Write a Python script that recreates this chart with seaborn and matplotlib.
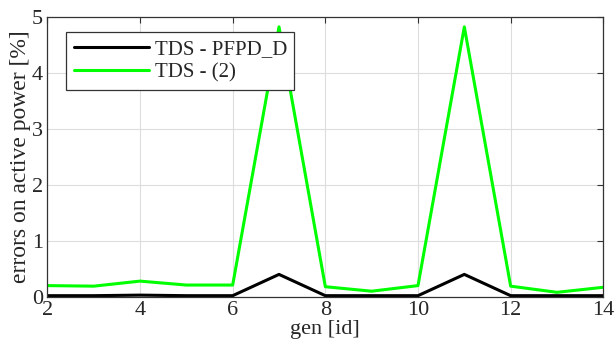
import numpy as np
import pandas as pd
import matplotlib
matplotlib.use('Agg')
import matplotlib.pyplot as plt
import seaborn as sns

# Data
gen_id = [2, 3, 4, 5, 6, 7, 8, 9, 10, 11, 12, 13, 14]
err_pfpd_d = [0.02, 0.02, 0.03, 0.02, 0.02, 0.40, 0.02, 0.02, 0.02, 0.40, 0.02, 0.02, 0.02]
err_two = [0.20, 0.19, 0.28, 0.21, 0.21, 4.82, 0.18, 0.10, 0.20, 4.82, 0.19, 0.08, 0.17]
series_names = ['TDS - PFPD_D', 'TDS - (2)']
series_colors = ['#000000', '#00ff00']

df = pd.DataFrame({
    'gen': gen_id * 2,
    'err': err_pfpd_d + err_two,
    'series': [series_names[0]] * len(gen_id) + [series_names[1]] * len(gen_id),
})

sns.set_style('whitegrid')
plt.rcParams['font.family'] = ['Liberation Serif', 'DejaVu Serif']

fig, ax = plt.subplots(figsize=(6.15, 3.5), dpi=100)
sns.lineplot(data=df, x='gen', y='err', hue='series', palette=series_colors,
             linewidth=2.2, ax=ax)

ax.set_xlim(2, 14)
ax.set_ylim(0, 5)
ax.set_xticks([2, 4, 6, 8, 10, 12, 14])
ax.set_yticks([0, 1, 2, 3, 4, 5])
ax.tick_params(direction='in', labelsize=16, length=4, color='#333333',
               top=True, right=True, pad=3)
ax.grid(True, color='#dddddd', linewidth=0.8)
for s in ax.spines.values():
    s.set_color('#333333')
    s.set_linewidth(0.9)
ax.set_xlabel('gen [id]', fontsize=16, labelpad=0)
ax.set_ylabel('errors on active power [%]', fontsize=17, labelpad=1)

leg = ax.legend(loc='upper left', bbox_to_anchor=(0.034, 0.946), fontsize=15,
                frameon=True, fancybox=False, edgecolor='#333333',
                handlelength=3.6, borderpad=0.35, labelspacing=0.2,
                handletextpad=0.3, borderaxespad=0)
leg.get_frame().set_linewidth(0.9)
leg.get_frame().set_alpha(1)

fig.subplots_adjust(left=0.077, right=0.981, top=0.952, bottom=0.152)
fig.savefig('out.png', dpi=100)
